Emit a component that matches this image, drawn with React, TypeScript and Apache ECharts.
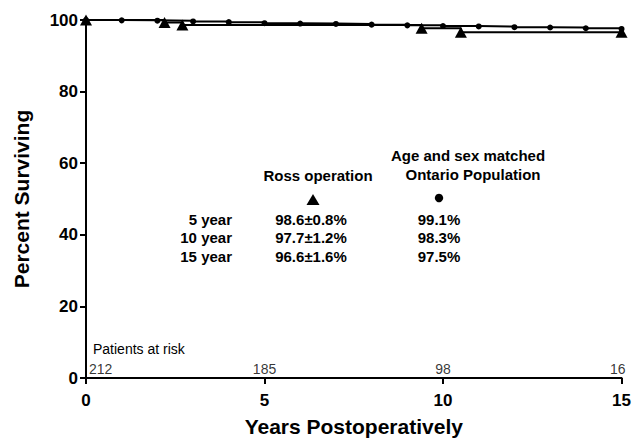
import React, { useEffect, useRef } from "react";
import * as echarts from "echarts";

const FONT = "'Liberation Sans', Arial, Helvetica, sans-serif";

// Ross operation (Kaplan-Meier step curve)
const rossYears = [0, 2.2, 2.7, 9.4, 10.5, 15];
const rossValues = [100, 99.3, 98.6, 97.7, 96.6, 96.6];

// Age and sex matched Ontario population
const popYears = [0, 1, 2, 3, 4, 5, 6, 7, 8, 9, 10, 11, 12, 13, 14, 15];
const popValues = [100, 99.9, 99.8, 99.6, 99.4, 99.1, 99.0, 98.9, 98.7, 98.5, 98.3, 98.2, 98.0, 97.9, 97.7, 97.5];

// Patients at risk
const riskYears = [0, 5, 10, 15];
const riskCounts = [212, 185, 98, 16];
const riskLabelLevel = 2.4;

// Summary table
const tableRows = ["5 year", "10 year", "15 year"];
const rossSurvival = ["98.6±0.8%", "97.7±1.2%", "96.6±1.6%"];
const popSurvival = ["99.1%", "98.3%", "97.5%"];

const xTicks = { min: 0, max: 15, interval: 5 };
const yTicks = { min: 0, max: 100, interval: 20 };

function txt(x: number, y: number, text: string, align: string, size: number, weight: string = "bold") {
  return {
    type: "text",
    x,
    y,
    style: {
      text,
      align,
      textAlign: align,
      verticalAlign: "middle",
      textVerticalAlign: "middle",
      font: `${weight} ${size}px ${FONT}`,
      fill: "#000",
    },
  };
}

export default function App() {
  const ref = useRef<HTMLDivElement>(null);
  useEffect(() => {
    if (!ref.current) return;
    const chart = echarts.init(ref.current, undefined, { renderer: "svg" });
    const rowY = [219, 237.5, 256];
    const graphics: any[] = [
      txt(93, 349, "Patients at risk", "left", 14, "normal"),
      txt(318, 175, "Ross operation", "center", 15),
      txt(468, 155, "Age and sex matched", "center", 15),
      txt(473, 174, "Ontario Population", "center", 15),
      {
        type: "polygon",
        shape: { points: [[313, 194], [319.5, 205], [306.5, 205]] },
        style: { fill: "#000" },
      },
      { type: "circle", shape: { cx: 439, cy: 198, r: 4.2 }, style: { fill: "#000" } },
    ];
    tableRows.forEach((r, i) => {
      graphics.push(txt(232, rowY[i], r, "right", 15));
      graphics.push(txt(311, rowY[i], rossSurvival[i], "center", 15));
      graphics.push(txt(439, rowY[i], popSurvival[i], "center", 15));
    });

    chart.setOption({
      animation: false,
      backgroundColor: "#fff",
      grid: { left: 86, right: 7, top: 20, bottom: 59, containLabel: false },
      xAxis: {
        type: "value",
        min: xTicks.min,
        max: xTicks.max,
        interval: xTicks.interval,
        name: "Years Postoperatively",
        nameLocation: "middle",
        nameGap: 38,
        nameTextStyle: { fontFamily: FONT, fontWeight: "bold", fontSize: 21, color: "#000" },
        axisLine: { show: true, lineStyle: { color: "#000", width: 2 } },
        axisTick: { show: true, length: 6, lineStyle: { color: "#000", width: 2 } },
        axisLabel: { margin: 14, fontFamily: FONT, fontWeight: "bold", fontSize: 17, color: "#000" },
        splitLine: { show: false },
      },
      yAxis: {
        type: "value",
        min: yTicks.min,
        max: yTicks.max,
        interval: yTicks.interval,
        name: "Percent Surviving",
        nameLocation: "middle",
        nameRotate: 90,
        nameGap: 54,
        nameTextStyle: { fontFamily: FONT, fontWeight: "bold", fontSize: 21, color: "#000" },
        axisLine: { show: true, lineStyle: { color: "#000", width: 2 } },
        axisTick: { show: true, length: 6, lineStyle: { color: "#000", width: 2 } },
        axisLabel: { margin: 8, fontFamily: FONT, fontWeight: "bold", fontSize: 17, color: "#000" },
        splitLine: { show: false },
      },
      series: [
        {
          name: "Ontario Population",
          type: "line",
          step: "end",
          clip: false,
          data: popYears.map((x, i) => [x, popValues[i]]),
          symbol: "circle",
          symbolSize: 6,
          showAllSymbol: true,
          itemStyle: { color: "#000" },
          lineStyle: { color: "#000", width: 2 },
        },
        {
          name: "Ross operation",
          type: "line",
          step: "end",
          clip: false,
          data: rossYears.map((x, i) => [x, rossValues[i]]),
          symbol: "triangle",
          symbolSize: [12, 11],
          showAllSymbol: true,
          itemStyle: { color: "#000" },
          lineStyle: { color: "#000", width: 2 },
        },
        {
          name: "Patients at risk",
          type: "scatter",
          clip: false,
          symbolSize: 0,
          silent: true,
          data: riskYears.map((x, i) => ({
            value: [x, riskLabelLevel],
            label: {
              show: true,
              position: "inside",
              formatter: String(riskCounts[i]),
              align: i === 0 ? "left" : i === riskYears.length - 1 ? "right" : "center",
              offset: i === 0 ? [3, 0] : i === riskYears.length - 1 ? [4, 0] : [0, 0],
              fontFamily: FONT,
              fontSize: 14,
              color: "#000",
            },
          })),
        },
      ],
      graphic: graphics,
    });
    return () => chart.dispose();
  }, []);
  return (
    <div
      ref={ref}
      style={{ position: "absolute", left: 0, top: 0, width: 634, height: 442 }}
    />
  );
}
